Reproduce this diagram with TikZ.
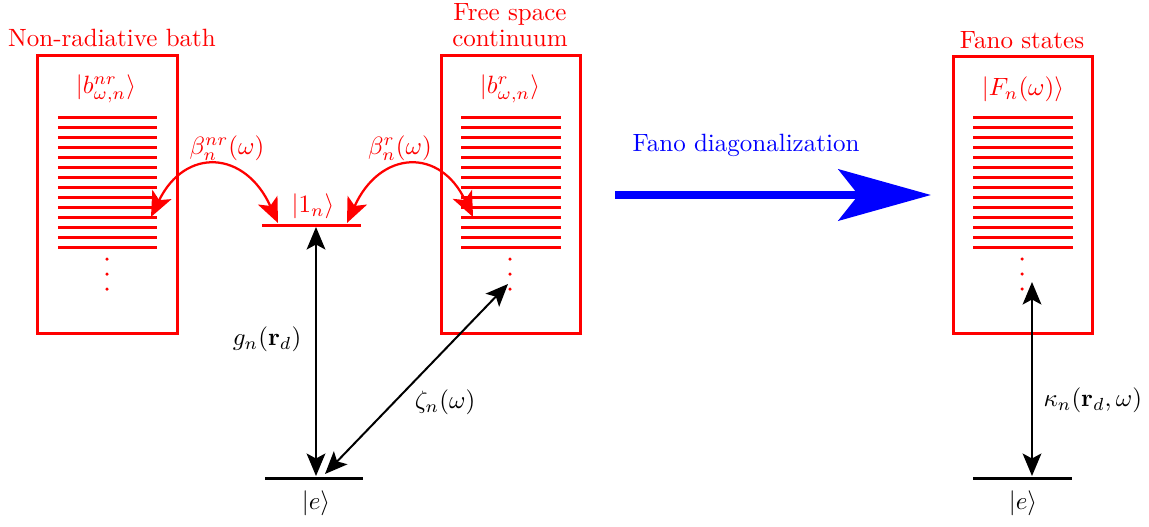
\documentclass[tikz,border=0pt]{standalone}
\usetikzlibrary{arrows.meta}
\begin{document}
\begin{tikzpicture}[x=0.4pt,y=-0.4pt,
  box/.style={draw=red,line width=1.2pt,minimum width=55.6pt,minimum height=111pt,inner sep=0},
  lvl/.style={line width=1.2pt},
  rtxt/.style={text=red,inner sep=0},
  btxt/.style={text=black,inner sep=0},
  dot/.style={red,radius=0.7pt},
  blk/.style={line width=0.8pt,{Stealth[length=9pt,width=7.5pt,inset=2pt]}-{Stealth[length=9pt,width=7.5pt,inset=2pt]}},
  rarr/.style={red,line width=0.9pt,{Stealth[length=10pt,width=8.5pt,inset=2.5pt]}-{Stealth[length=10pt,width=8.5pt,inset=2.5pt]}}
]
\useasboundingbox (0,0) rectangle (1149,527);

% boxes
\node[box] (bnr) at (107.5,194.5) {};
\node[box] (br) at (510.5,194.5) {};
\node[box] (bf) at (1023,195) {};

% titles
\node[rtxt] (tnr) at (112,38) {Non-radiative bath};
\node[rtxt,align=center] (tr) at (510,25) {Free space\\[-1.6pt]continuum};
\node[rtxt] (tf) at (1022,40) {Fano states};

% state labels
\node[rtxt] (lnr) at (106,89) {$|b^{nr}_{\omega,n}\rangle$};
\node[rtxt] (lr) at (510,89) {$|b^{r}_{\omega,n}\rangle$};
\node[rtxt] (lf) at (1023,89) {$|F_n(\omega)\rangle$};

% continuum lines
\foreach \i in {0,...,13} {
  \draw[red,lvl] (58,117+10*\i) -- (157,117+10*\i);
  \draw[red,lvl] (461,117+10*\i) -- (561,117+10*\i);
  \draw[red,lvl] (973,117+10*\i) -- (1073,117+10*\i);
}
% dots
\foreach \y in {259,274,289} {
  \fill[dot] (107,\y) circle;
  \fill[dot] (510,\y) circle;
  \fill[dot] (1022,\y) circle;
}

% levels
\coordinate (oneL) at (262,225);
\coordinate (oneR) at (361,225);
\draw[red,lvl] (oneL) -- (oneR);
\node[rtxt] (lone) at (313,206) {$|1_n\rangle$};

\coordinate (eL) at (265,478);
\coordinate (eR) at (363,478);
\draw[lvl] (eL) -- (eR);
\node[btxt] (le) at (316,503) {$|e\rangle$};

\coordinate (fL) at (973,478);
\coordinate (fR) at (1072,478);
\draw[lvl] (fL) -- (fR);
\node[btxt] (lfe) at (1023,503) {$|e\rangle$};

% black arrows
\coordinate (gT) at (316,227);
\coordinate (gB) at (316,476);
\draw[blk] (gT) -- (gB);
\node[btxt] (lg) at (267,339) {$g_n(\mathbf{r}_d)$};

\coordinate (zB) at (325,474);
\coordinate (zT) at (508,284);
\draw[blk] (zB) -- (zT);
\node[btxt] (lz) at (445,402) {$\zeta_n(\omega)$};

\coordinate (kT) at (1032,282);
\coordinate (kB) at (1032,476);
\draw[blk] (kT) -- (kB);
\node[btxt,anchor=west] (lk) at (1043,400) {$\kappa_n(\mathbf{r}_d,\omega)$};

% red curved arrows
\coordinate (bnrA) at (151,217);
\coordinate (bnrB) at (278,223);
\draw[rarr] (bnrA) .. controls (185,147) and (245,150) .. (bnrB);
\node[rtxt] (lbnr) at (227,148) {$\beta_n^{nr}(\omega)$};

\coordinate (brA) at (347,223);
\coordinate (brB) at (473,217);
\draw[rarr] (brA) .. controls (380,150) and (440,147) .. (brB);
\node[rtxt] (lbr) at (400,148) {$\beta_n^{r}(\omega)$};

% Fano arrow
\coordinate (fa) at (615,195);
\coordinate (fb) at (931,195);
\draw[blue,line width=3.2pt,-{Stealth[length=37pt,width=20.5pt,inset=8pt]}] (fa) -- (fb);
\node[text=blue,inner sep=0] (lfa) at (746,145) {Fano diagonalization};
\end{tikzpicture}
\end{document}
